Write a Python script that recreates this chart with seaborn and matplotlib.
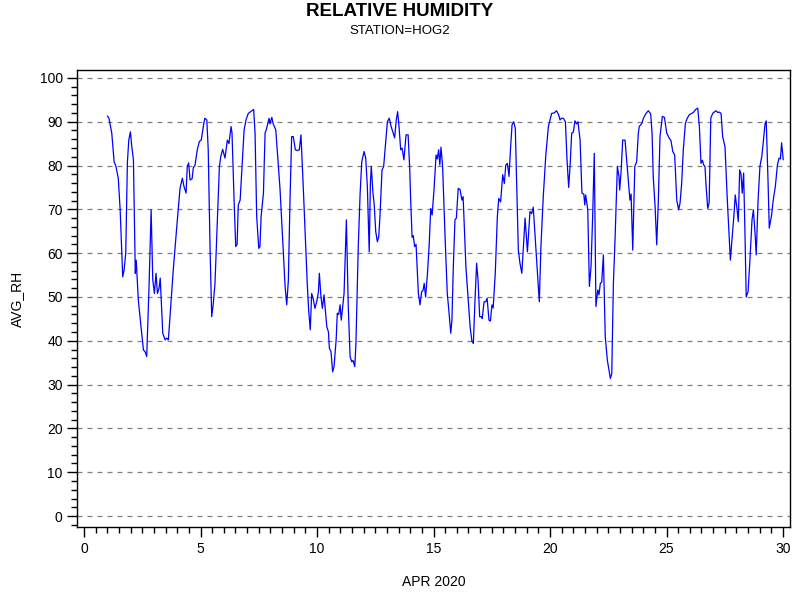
import numpy as np
import pandas as pd
import matplotlib
matplotlib.use("Agg")
import matplotlib.pyplot as plt
from matplotlib.ticker import MultipleLocator
import seaborn as sns

# day of April 2020 (fractional) and average relative humidity
day = [
    1.00, 1.07, 1.19, 1.29, 1.37, 1.47, 1.55, 1.66, 1.72, 1.79, 1.86, 1.92, 1.99, 2.05, 2.12,
    2.20, 2.24, 2.33, 2.43, 2.55, 2.62, 2.69, 2.79, 2.88, 2.95, 3.02, 3.09, 3.15, 3.22, 3.27,
    3.38, 3.48, 3.55, 3.62, 3.69, 3.83, 3.98, 4.12, 4.22, 4.29, 4.38, 4.43, 4.49, 4.55, 4.64,
    4.69, 4.76, 4.86, 4.95, 5.03, 5.12, 5.18, 5.27, 5.33, 5.41, 5.48, 5.55, 5.62, 5.70, 5.81,
    5.87, 5.95, 6.05, 6.15, 6.22, 6.31, 6.35, 6.44, 6.51, 6.57, 6.62, 6.70, 6.78, 6.87, 6.95,
    7.05, 7.20, 7.28, 7.34, 7.41, 7.50, 7.55, 7.60, 7.70, 7.77, 7.84, 7.94, 7.98, 8.06, 8.12,
    8.23, 8.34, 8.41, 8.55, 8.63, 8.70, 8.77, 8.84, 8.91, 8.98, 9.07, 9.15, 9.24, 9.31, 9.39,
    9.48, 9.58, 9.64, 9.71, 9.77, 9.84, 9.91, 9.99, 10.06, 10.10, 10.17, 10.23, 10.30, 10.42,
    10.49, 10.53, 10.60, 10.67, 10.73, 10.82, 10.87, 10.93, 10.99, 11.04, 11.10, 11.16, 11.26,
    11.34, 11.42, 11.49, 11.55, 11.62, 11.67, 11.77, 11.85, 11.92, 12.02, 12.09, 12.16, 12.24,
    12.29, 12.33, 12.40, 12.45, 12.52, 12.59, 12.65, 12.70, 12.79, 12.86, 12.93, 13.02, 13.10,
    13.18, 13.27, 13.33, 13.40, 13.46, 13.52, 13.59, 13.65, 13.73, 13.82, 13.91, 13.98, 14.02,
    14.08, 14.13, 14.19, 14.25, 14.35, 14.42, 14.49, 14.55, 14.60, 14.66, 14.73, 14.81, 14.88,
    14.94, 15.02, 15.11, 15.16, 15.22, 15.27, 15.32, 15.39, 15.49, 15.59, 15.65, 15.74, 15.79,
    15.85, 15.92, 15.98, 16.06, 16.14, 16.22, 16.27, 16.32, 16.39, 16.49, 16.57, 16.65, 16.71,
    16.78, 16.85, 16.91, 16.98, 17.05, 17.09, 17.17, 17.24, 17.30, 17.38, 17.44, 17.51, 17.56,
    17.65, 17.74, 17.80, 17.88, 17.97, 18.04, 18.10, 18.17, 18.24, 18.31, 18.37, 18.44, 18.51,
    18.57, 18.64, 18.71, 18.79, 18.85, 18.93, 19.03, 19.14, 19.21, 19.28, 19.36, 19.46, 19.54,
    19.61, 19.71, 19.82, 19.93, 20.07, 20.18, 20.28, 20.37, 20.43, 20.50, 20.57, 20.66, 20.73,
    20.80, 20.86, 20.93, 21.00, 21.07, 21.14, 21.20, 21.29, 21.37, 21.45, 21.49, 21.53, 21.62,
    21.69, 21.76, 21.83, 21.90, 21.97, 22.05, 22.10, 22.16, 22.22, 22.29, 22.37, 22.46, 22.53,
    22.59, 22.65, 22.72, 22.79, 22.89, 22.96, 22.99, 23.05, 23.12, 23.22, 23.29, 23.36, 23.43,
    23.48, 23.55, 23.64, 23.72, 23.79, 23.83, 23.94, 24.01, 24.12, 24.22, 24.32, 24.38, 24.43,
    24.51, 24.58, 24.65, 24.72, 24.82, 24.91, 25.01, 25.11, 25.19, 25.27, 25.35, 25.44, 25.52,
    25.58, 25.65, 25.72, 25.81, 25.89, 25.98, 26.08, 26.15, 26.25, 26.34, 26.41, 26.48, 26.54,
    26.60, 26.65, 26.70, 26.77, 26.83, 26.90, 26.98, 27.05, 27.12, 27.20, 27.26, 27.34, 27.41,
    27.51, 27.61, 27.68, 27.74, 27.81, 27.90, 27.95, 28.03, 28.08, 28.14, 28.20, 28.25, 28.31,
    28.37, 28.42, 28.50, 28.58, 28.67, 28.73, 28.80, 28.85, 28.93, 29.01, 29.09, 29.15, 29.23,
    29.28, 29.36, 29.41, 29.51, 29.58, 29.67, 29.76, 29.83, 29.89, 29.94, 30.01,
]
avg_rh = [
    91.3, 90.8, 87.4, 80.9, 79.8, 77.1, 69.9, 54.6, 56.2, 60.0, 80.6, 85.8, 87.7, 84.3, 81.3,
    55.4, 58.4, 49.3, 44.0, 37.9, 37.5, 36.4, 52.4, 69.9, 53.9, 50.8, 55.4, 50.8, 52.0, 54.3,
    41.7, 40.2, 40.6, 40.2, 45.5, 56.2, 66.0, 74.8, 77.1, 75.2, 73.7, 79.8, 80.6, 76.7, 77.0,
    79.5, 80.0, 83.6, 85.5, 85.8, 88.9, 90.8, 90.4, 83.6, 60.7, 45.5, 48.6, 53.1, 64.5, 79.8,
    82.1, 83.7, 81.7, 85.8, 85.0, 88.9, 87.5, 72.1, 61.5, 62.0, 71.0, 72.1, 79.8, 88.1, 90.4,
    91.9, 92.5, 92.8, 87.4, 68.4, 61.1, 61.5, 68.4, 73.7, 87.4, 88.5, 90.8, 89.5, 91.0, 89.5,
    88.1, 79.8, 74.8, 60.7, 52.4, 48.2, 53.9, 72.1, 86.6, 86.6, 83.6, 83.4, 83.6, 87.0, 77.5,
    66.0, 53.1, 47.0, 42.5, 50.8, 49.5, 47.4, 49.0, 51.2, 55.4, 50.0, 47.4, 50.5, 43.2,
    42.0, 38.3, 37.5, 32.9, 34.1, 40.2, 46.3, 46.0, 48.2, 44.7, 47.8, 50.8, 67.6,
    47.8, 36.4, 35.2, 35.5, 34.1, 39.4, 61.5, 73.7, 80.9, 83.2, 81.7, 75.2, 60.3,
    75.9, 79.8, 73.7, 71.4, 64.9, 62.6, 63.8, 68.4, 79.0, 79.8, 84.3, 90.0, 90.8,
    88.9, 87.4, 86.3, 90.4, 92.3, 88.9, 83.6, 84.0, 81.3, 87.0, 87.0, 79.0, 72.0,
    63.6, 64.0, 61.5, 62.0, 50.8, 48.2, 51.2, 51.5, 53.1, 50.0, 54.6, 61.5, 70.2,
    68.7, 74.4, 82.4, 81.5, 83.6, 80.1, 84.2, 79.8, 64.5, 50.8, 47.4, 41.7, 44.7,
    56.9, 67.6, 68.0, 74.8, 74.5, 72.1, 72.9, 66.0, 56.9, 49.3, 43.2, 39.8, 39.4,
    49.3, 57.7, 53.9, 45.5, 45.5, 45.1, 48.9, 48.9, 49.7, 44.7, 44.5, 48.2, 47.5,
    55.4, 68.4, 72.5, 71.7, 77.9, 75.9, 80.1, 80.5, 77.5, 84.3, 89.3, 90.0, 88.5,
    75.2, 60.7, 57.7, 55.4, 60.7, 68.0, 60.3, 69.5, 69.0, 70.5, 63.8, 55.4, 48.9,
    61.5, 72.9, 82.4, 88.9, 91.9, 92.0, 92.5, 91.6, 90.4, 90.8, 90.8, 90.0, 81.3,
    75.0, 79.8, 87.4, 87.6, 90.2, 89.5, 90.0, 85.8, 73.7, 73.5, 71.0, 73.3, 69.9,
    52.4, 56.9, 68.4, 82.8, 47.8, 51.6, 50.5, 53.1, 53.4, 59.6, 41.0, 35.6, 33.3,
    31.4, 32.5, 53.1, 63.0, 79.8, 77.5, 74.4, 78.6, 85.8, 85.8, 81.3, 76.7, 72.1,
    73.5, 60.7, 79.8, 80.9, 87.4, 88.9, 89.6, 90.8, 91.9, 92.5, 91.8, 87.4, 77.5,
    70.6, 61.9, 72.1, 86.6, 91.2, 91.0, 87.4, 86.3, 85.7, 83.2, 82.4, 72.1, 69.9,
    71.4, 75.9, 83.6, 89.6, 90.8, 91.6, 91.9, 92.1, 92.8, 93.1, 88.9, 80.5, 81.2,
    80.1, 79.8, 75.2, 70.2, 71.5, 90.8, 91.9, 92.2, 92.5, 92.1, 92.2, 91.9, 86.6,
    84.3, 72.1, 64.5, 58.4, 63.0, 69.1, 73.3, 69.9, 67.2, 79.0, 78.0, 73.7, 78.3,
    63.8, 50.0, 51.2, 58.4, 67.6, 69.9, 64.5, 59.6, 72.1, 79.8, 82.1, 85.2, 89.6,
    90.2, 75.9, 65.7, 68.7, 72.1, 75.2, 80.1, 81.7, 81.5, 85.2, 81.3,
]

df = pd.DataFrame({"day": day, "AVG_RH": avg_rh})

sns.set_style("ticks")
plt.rcParams["font.family"] = ["Liberation Sans", "DejaVu Sans"]
plt.rcParams["text.color"] = "black"
plt.rcParams["axes.labelcolor"] = "black"
plt.rcParams["xtick.color"] = "black"
plt.rcParams["ytick.color"] = "black"

fig = plt.figure(figsize=(8, 6), dpi=100)
ax = fig.add_axes([0.0966, 0.1217, 0.8909, 0.7616])

sns.lineplot(data=df, x="day", y="AVG_RH", ax=ax, color="#0000ff",
             linewidth=0.9, estimator=None, sort=False)

ax.set_xlim(-0.29, 30.3)
ax.set_ylim(-2.5, 101.8)
ax.xaxis.set_major_locator(MultipleLocator(5))
ax.xaxis.set_minor_locator(MultipleLocator(0.5))
ax.yaxis.set_major_locator(MultipleLocator(10))
ax.yaxis.set_minor_locator(MultipleLocator(2))
ax.tick_params(axis="both", which="major", length=7, width=1, labelsize=10)
ax.tick_params(axis="both", which="minor", length=4, width=1)
ax.grid(axis="y", which="major", linestyle=(0, (4, 4)), color="#808080", linewidth=0.9)

for s in ax.spines.values():
    s.set_color("black")
    s.set_linewidth(1)

ax.set_xlabel("APR 2020", fontsize=10, labelpad=14)
ax.set_ylabel("AVG_RH", fontsize=10, labelpad=11)

fig.text(0.5, 1 - 11 / 600, "RELATIVE HUMIDITY", ha="center", va="center",
         fontsize=13.5, fontweight="bold")
fig.text(0.5, 1 - 31 / 600, "STATION=HOG2", ha="center", va="center", fontsize=9.5)

fig.savefig("out.png", dpi=100, facecolor="white")
